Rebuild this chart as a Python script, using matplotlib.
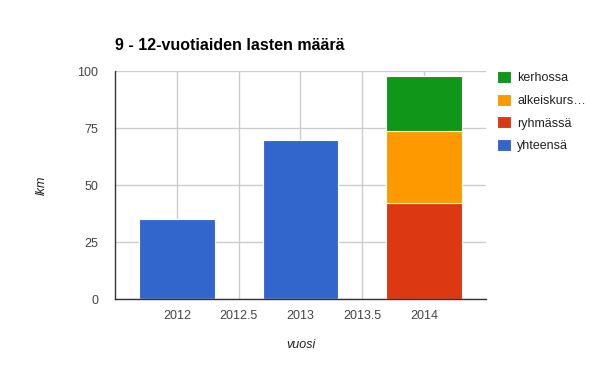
import matplotlib.pyplot as plt
import numpy as np

years = [2012, 2013, 2014]
yhteensa = [35, 70, 0]
ryhmassa = [0, 0, 42]
alkeiskurssi = [0, 0, 32]
kerhossa = [0, 0, 24]

xticks = [2012, 2012.5, 2013, 2013.5, 2014]
xtick_labels = ["2012", "2012.5", "2013", "2013.5", "2014"]
yticks = [0, 25, 50, 75, 100]

plt.rcParams['font.family'] = ['Liberation Sans', 'DejaVu Sans']

fig = plt.figure(figsize=(6, 3.71), dpi=100)
ax = fig.add_axes([115 / 600, 1 - 299 / 371, (486 - 115) / 600, (299 - 71.3) / 371])

w = 0.613
x = np.array(years, dtype=float)
b1 = ax.bar(x, yhteensa, w, color='#3366cc', edgecolor='white', linewidth=0.8, label='yhteensä', zorder=3)
b2 = ax.bar(x, ryhmassa, w, color='#dc3912', edgecolor='white', linewidth=0.8, label='ryhmässä', zorder=3)
bottom = np.array(ryhmassa)
b3 = ax.bar(x, alkeiskurssi, w, bottom=bottom, color='#ff9900', edgecolor='white', linewidth=0.8,
            label='alkeiskurs…', zorder=3)
bottom = bottom + np.array(alkeiskurssi)
b4 = ax.bar(x, kerhossa, w, bottom=bottom, color='#109618', edgecolor='white', linewidth=0.8,
            label='kerhossa', zorder=3)

ax.set_xlim(2011.5, 2014.5)
ax.set_ylim(0, 100)
ax.set_xticks(xticks)
ax.set_xticklabels(xtick_labels)
ax.set_yticks(yticks)
ax.grid(True, color='#cccccc', linewidth=1, zorder=0)
ax.tick_params(length=0, labelsize=9, colors='#444444', pad=8)
ax.tick_params(axis='y', pad=12)

for s in ['top', 'right']:
    ax.spines[s].set_visible(False)
for s in ['left', 'bottom']:
    ax.spines[s].set_color('#333333')
    ax.spines[s].set_linewidth(1)
    ax.spines[s].set_zorder(4)

ax.set_xlabel('vuosi', fontsize=9, style='italic', color='#222222')
ax.set_ylabel('lkm', fontsize=9, style='italic', color='#222222')
ax.xaxis.set_label_coords(0.5, (299 - 345) / 227.7, transform=ax.transAxes)
ax.yaxis.set_label_coords((42 - 115) / 371, 0.5, transform=ax.transAxes)
ax.xaxis.label.set_va('center')
ax.yaxis.label.set_va('center')

fig.text(115 / 600, 1 - 45 / 371, '9 - 12-vuotiaiden lasten määrä', fontsize=11.5, weight='bold',
         color='#000000', va='center', ha='left')

handles = [b4, b3, b2, b1]
leg = fig.legend(handles=handles, labels=[h.get_label() for h in handles],
                 loc='upper left', bbox_to_anchor=(492 / 600, 1 - 66 / 371),
                 frameon=False, fontsize=9, handlelength=1.1, handleheight=1.1,
                 handletextpad=0.5, labelspacing=0.75, borderaxespad=0)
for t in leg.get_texts():
    t.set_color('#222222')

fig.savefig('out.png', dpi=100)
